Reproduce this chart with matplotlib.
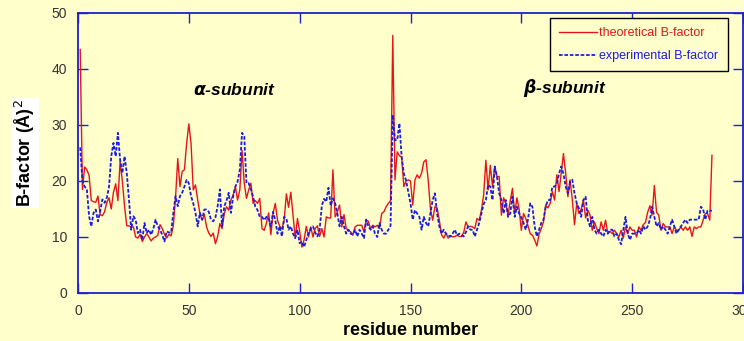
import matplotlib
matplotlib.use("Agg")
import matplotlib.pyplot as plt
import numpy as np

# B-factor profiles, residues 1..286
theoretical = [
    43.5, 18.5, 22.5, 22, 21, 16.5, 16.3, 16.2, 17.3, 14,
    13.8, 14.5, 16.2, 17, 15, 18, 19.5, 16.5, 23.5, 20,
    15.5, 12, 12, 11.8, 11.8, 10, 9.8, 10.5, 9.2, 10,
    10.6, 10, 9.3, 9.8, 10, 10.3, 12.2, 11.5, 10.5, 9.8,
    10.5, 10.2, 12, 17, 24, 19, 21.7, 22, 26.7, 30.2,
    26.7, 18.4, 19.3, 16.6, 14.2, 13, 14, 11.8, 10.7, 10.1,
    10.7, 8.8, 10.1, 12.4, 11.5, 14.2, 15.4, 14.8, 16.6, 17.5,
    19, 16.6, 18.4, 25.5, 19.6, 16.9, 18.4, 19.6, 16, 16.5,
    16, 16.9, 11.5, 11.2, 12.5, 14.3, 10.4, 14.2, 16, 13,
    11.9, 11.5, 13, 17.7, 15.3, 18, 14, 9.8, 13.3, 11,
    8.2, 9.5, 11.9, 10, 11.8, 10, 11.5, 12, 10.1, 11.5,
    10, 13.6, 13.4, 13.4, 22, 13.6, 14.5, 15.7, 11.8, 14,
    11.5, 11.2, 10.9, 10.4, 11.8, 12.1, 12.1, 12.1, 10.9, 13,
    12.8, 11.5, 12.1, 11.8, 12.1, 11.5, 14.2, 14.5, 15.4, 16,
    16.5, 46, 20.2, 25.2, 24.5, 24.3, 19, 20, 20.2, 20,
    15.7, 20.2, 21.1, 20.5, 21.4, 23.4, 23.8, 20.1, 15, 13,
    15.4, 15.2, 13, 10.4, 9.8, 10.7, 9.8, 10.2, 10, 10.1,
    10.3, 10.1, 10.1, 10.8, 12.7, 11.8, 11.9, 11.8, 11.5, 13.3,
    13, 14.8, 17.5, 23.7, 18.4, 22.8, 19, 22.6, 20.8, 20.8,
    13.9, 17, 16, 13.9, 16.5, 18.7, 14.2, 17, 15, 11.2,
    14.2, 13.3, 12, 10.6, 10.3, 9.5, 8.4, 10.5, 11.5, 12.7,
    15.7, 15.2, 16, 18.1, 16.6, 21.1, 18.1, 21.4, 24.9, 21.4,
    17.2, 20.2, 16.6, 12.2, 16, 14.2, 15, 16.6, 13.4, 14.8,
    13.9, 11.2, 12.7, 11.5, 10.6, 12.7, 11.2, 13, 10.6, 11,
    10.6, 11.2, 10.6, 10, 11.2, 9.8, 11.8, 10.6, 11.8, 11.2,
    11.2, 10, 11.8, 11.2, 12.2, 12.6, 14.4, 15.6, 13.9, 19.2,
    14.4, 13.9, 11.2, 12.4, 11.8, 11.8, 11.8, 10.6, 11.8, 11.2,
    11.2, 11.8, 11.2, 11.8, 11.2, 11.8, 10.1, 11.8, 11.5, 11.8,
    11.8, 13, 14.2, 14.2, 13, 24.6,
]
experimental = [
    26, 20, 19, 18.5, 13.7, 11.9, 14.3, 14.9, 12.8, 14.6,
    16.7, 16.1, 17, 19, 24.4, 26.8, 24.4, 28.6, 23.8, 21.4,
    24.4, 21.4, 16.7, 11.3, 13.7, 13.1, 10.7, 11.3, 9.5, 12.5,
    10.7, 11.3, 10.4, 11.5, 13.1, 11.9, 11.3, 10.4, 9.2, 11,
    10.8, 10.8, 14.3, 17.3, 15.5, 17.3, 17.9, 19, 20.2, 19.6,
    17.3, 16, 14.3, 11.9, 14.3, 13.1, 14.9, 14.9, 14.5, 13.1,
    12.8, 13.5, 15.5, 18.5, 11.9, 15.5, 16.5, 17.9, 14.3, 17.3,
    19, 19.9, 22, 28.6, 28, 19.6, 19.6, 18.5, 17.2, 15.4,
    14.8, 13.6, 13.6, 13, 13.6, 13.3, 11.9, 14.5, 13, 10.6,
    11.9, 10.1, 13.6, 13.3, 11.3, 11.9, 10.6, 9.8, 11.3, 8.9,
    9.2, 8.2, 9.5, 10.6, 11.5, 11.9, 10.8, 10.1, 11.3, 15.6,
    16.8, 16.3, 18.8, 15.6, 16.9, 16, 14.2, 11.9, 13.6, 11.9,
    10.6, 11.3, 10.6, 10.4, 11.3, 10.1, 11.3, 10.6, 9.8, 13.1,
    11.9, 11.3, 11.9, 10.6, 10, 12.5, 11.3, 10.6, 10.6, 11.3,
    12, 31.8, 27.3, 27.3, 30.3, 24.3, 21.3, 20.1, 18, 16,
    13.1, 14.8, 14.2, 13.6, 11.3, 13.6, 12.5, 11.9, 14.2, 16.6,
    17.8, 14.2, 11.9, 10.6, 11.3, 10.6, 10.3, 10.1, 10.6, 11.3,
    10.3, 10.6, 10.3, 10.1, 10.9, 11.9, 11.3, 11.3, 10.1, 11.3,
    12.5, 14.2, 15.9, 16.6, 19.3, 19, 16.6, 22.6, 20.8, 17.8,
    16.6, 14.2, 16.6, 13.6, 14.2, 17.2, 13.6, 15.4, 14.2, 13.5,
    12.5, 11.3, 13.1, 16, 15.4, 11.9, 10.1, 11.3, 12.5, 13.1,
    15.4, 16.6, 16.6, 19, 19, 19.5, 21.3, 22.6, 21.3, 19,
    17.8, 19.9, 20.2, 17.8, 16, 15.1, 13.6, 16.6, 17.2, 13,
    11.9, 13.6, 11.3, 10.6, 11.3, 10.6, 10.1, 11.3, 10.6, 11.3,
    11.3, 10.1, 10.6, 9.5, 8.7, 11.3, 13.6, 10.6, 9.5, 10.6,
    10.6, 10.6, 11.3, 10.6, 11.9, 11.3, 11.9, 13.1, 15.4, 13.6,
    11.9, 12.5, 11.3, 11.9, 11.3, 10.6, 11.9, 13.1, 11.9, 10.6,
    11.3, 11.9, 12.5, 13.1, 12.5, 13.1, 13.1, 13.1, 13.1, 13.1,
    15.4, 15, 13.1, 14.7, 14.7, 14.7,
]
residues_theo = np.arange(1, len(theoretical) + 1)
residues_exp = np.arange(1, len(experimental) + 1)

x_ticks = [0, 50, 100, 150, 200, 250, 300]
y_ticks = [0, 10, 20, 30, 40, 50]

BG = "#FFFFCC"
AXIS_BLUE = "#1F1FCC"
RED = "#E8141C"
BLUE = "#1C1CE0"

plt.rcParams["font.family"] = ["Liberation Sans", "DejaVu Sans"]

fig = plt.figure(figsize=(7.44, 3.41), dpi=100, facecolor=BG)
ax = fig.add_axes([78 / 744, 48 / 341, 665 / 744, 280 / 341], facecolor=BG)

ax.plot(residues_theo, theoretical, color=RED, lw=1.0, label="theoretical B-factor")
ax.plot(residues_exp, experimental, color=BLUE, lw=1.3, ls=(0, (2, 1)),
        label="experimental B-factor")

ax.set_xlim(0, 300)
ax.set_ylim(0, 50)
ax.set_xticks(x_ticks)
ax.set_yticks(y_ticks)
ax.tick_params(direction="in", length=7, width=1, color=AXIS_BLUE, labelsize=10,
               labelcolor="#333333", top=True, right=True, pad=8)
for sp in ax.spines.values():
    sp.set_color(AXIS_BLUE)
    sp.set_linewidth(1.3)

ax.set_xlabel("residue number", fontsize=13, fontweight="bold", labelpad=3)
ax.set_ylabel("B-factor (Å)$^2$", fontsize=13, fontweight="bold", labelpad=10,
              bbox=dict(facecolor="white", edgecolor="none", pad=1))

ax.text(70.5, 36.2, r"$\boldsymbol{\alpha}$-subunit", fontsize=12.5, fontweight="bold",
        style="italic", ha="center", va="center")
ax.text(219.5, 36.6, r"$\boldsymbol{\beta}$-subunit", fontsize=12.5, fontweight="bold",
        style="italic", ha="center", va="center")

leg = ax.legend(loc="upper right", bbox_to_anchor=(0.977, 0.982), borderaxespad=0,
                frameon=True, fancybox=False, framealpha=1, borderpad=0.75,
                handlelength=3.0, handletextpad=0.2, labelspacing=0.85,
                prop={"family": ["Liberation Sans", "DejaVu Sans"], "size": 9})
leg.get_frame().set_facecolor(BG)
leg.get_frame().set_edgecolor("black")
leg.get_frame().set_linewidth(1.0)
for txt, col in zip(leg.get_texts(), [RED, BLUE]):
    txt.set_color(col)

fig.savefig("out.png", dpi=100, facecolor=BG)
